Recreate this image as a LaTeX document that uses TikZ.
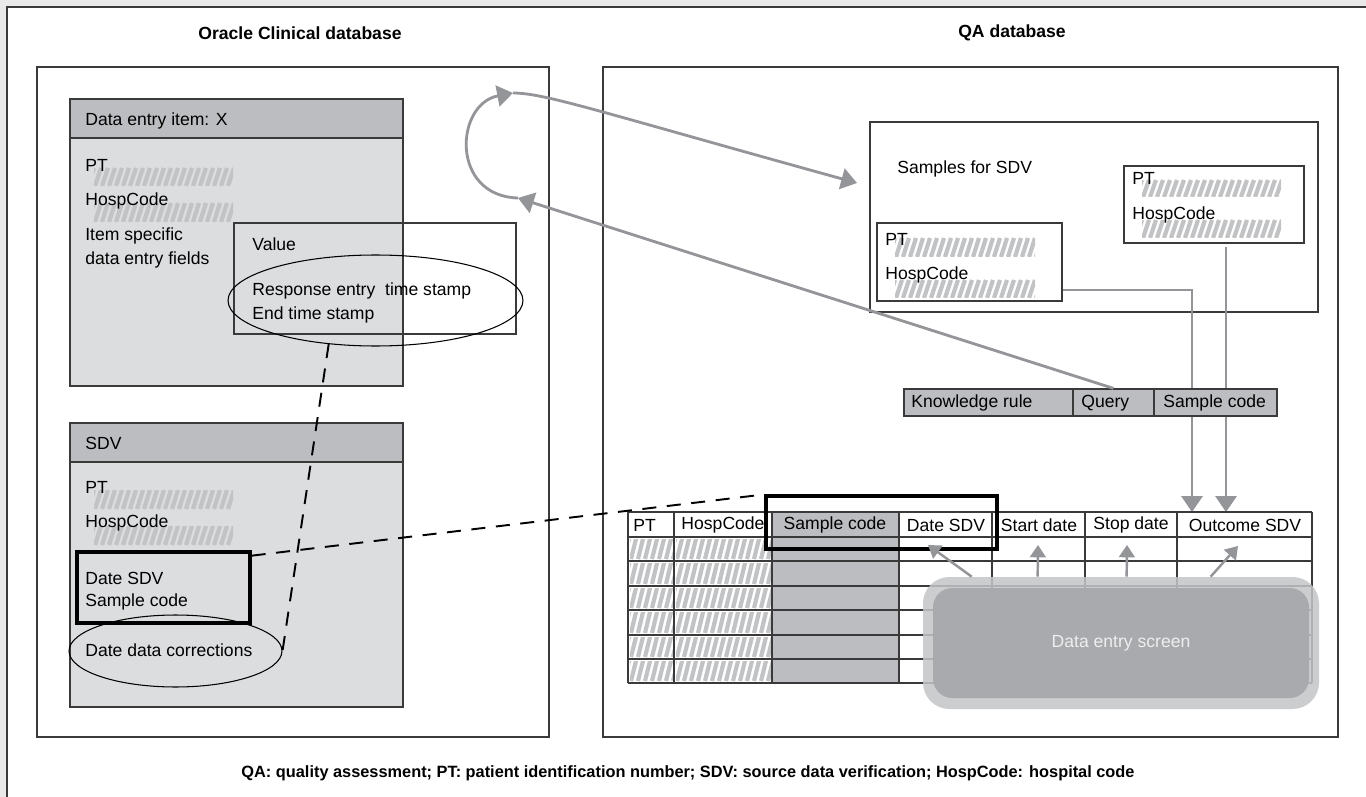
\documentclass[tikz,border=0pt]{standalone}
\usepackage{fontspec}
\setmainfont{Liberation Sans}
\usetikzlibrary{arrows.meta,positioning,calc,fit,shapes.geometric}

\definecolor{bggray}{HTML}{E9E9E9}
\definecolor{panelfill}{HTML}{DCDDDF}
\definecolor{headfill}{HTML}{BCBDC0}
\definecolor{hatchgray}{HTML}{C2C3C5}
\definecolor{arrowgray}{HTML}{939598}
\definecolor{screenrim}{HTML}{C4C5C7}
\definecolor{screenface}{HTML}{A9AAAD}
\definecolor{screentext}{HTML}{EEEEEE}
\definecolor{linedark}{HTML}{3A3A3A}

% striped field placeholder: x1,y1 (top left) x2,y2 (bottom right)
\newcommand{\hatchbar}[4]{%
  \begin{scope}
    \clip (#1,#2) rectangle (#3,#4);
    \foreach \k in {0,...,22}
      \draw[hatchline] ({#1+7*\k-6},#4) -- ++(6,{#2-#4});
  \end{scope}}

\begin{document}
\begin{tikzpicture}[x=0.02cm,y=-0.02cm,
  font=\fontsize{10}{12}\selectfont,
  frame/.style={draw=linedark,line width=0.7pt,inner sep=0pt},
  thickbox/.style={draw=black,line width=1.8pt,inner sep=0pt},
  lbl/.style={anchor=west,inner sep=0pt},
  ttl/.style={font=\bfseries\fontsize{10}{12}\selectfont,inner sep=0pt},
  ring/.style={draw=black,line width=0.6pt,ellipse,inner sep=0pt},
  hatchline/.style={draw=hatchgray,line width=2.4pt},
  link/.style={draw=black,line width=1.1pt,dash pattern=on 8pt off 6pt},
  garrow/.style={draw=arrowgray,line width=1.6pt,
                 -{Triangle[length=9pt,width=12pt]}},
  gline/.style={draw=arrowgray,line width=1.3pt},
  sarrow/.style={draw=arrowgray,line width=1.4pt,
                 -{Triangle[length=7pt,width=9pt]}}]
\useasboundingbox (0,0) rectangle (1366,797);
\fill[bggray] (0,0) rectangle (1366,797);
\fill[white] (7,7) rectangle (1366,797);
\draw[linedark,line width=1.3pt] (7,797) -- (7,7) -- (1366,7);

% titles
\node[ttl] (ocdb) at (300,33) {Oracle Clinical database};
\node[ttl] (qadb) at (1012,33) {QA database};
\node[ttl,font=\bfseries\fontsize{9.3}{11}\selectfont] (notes) at (688,773) {QA: quality assessment; PT: patient identification number; SDV: source data verification; HospCode: hospital code};

% panels
\node[frame,fit={(37,67) (549,737)}] (ocpanel) {};
\node[frame,fit={(603,67) (1338,737)}] (qapanel) {};

% data entry item
\node[frame,fill=panelfill,fit={(70,99) (403,386)}] (dei) {};
\node[frame,fill=headfill,fit={(70,99) (403,138)}] (deihead) {};
\node[lbl] (deit) at (85,121) {Data entry item: X};
\hatchbar{94}{168}{233}{186}
\hatchbar{94}{203}{233}{222}
\node[lbl] (deipt) at (85,165) {PT};
\node[lbl] (deihc) at (85,201) {HospCode};
\node[lbl] (deiis) at (85,236) {Item specific};
\node[lbl] (deide) at (85,260) {data entry fields};
\node[frame,fit={(234,223) (516,334)}] (value) {};
\node[lbl] (valt) at (252,244) {Value};
\node[lbl] (resp) at (252,291) {Response entry~ time stamp};
\node[lbl] (endt) at (252,315) {End time stamp};
\node[ring,minimum width=5.9cm,minimum height=1.82cm] (stamps) at (375.5,300.5) {};

% SDV
\node[frame,fill=panelfill,fit={(70,423) (403,707)}] (sdv) {};
\node[frame,fill=headfill,fit={(70,423) (403,462)}] (sdvhead) {};
\node[lbl] (sdvt) at (85,443) {SDV};
\hatchbar{94}{490}{233}{509}
\hatchbar{94}{526}{233}{545}
\node[lbl] (sdvpt) at (85,487) {PT};
\node[lbl] (sdvhc) at (85,523) {HospCode};
\node[thickbox,fit={(77,552) (250,623)}] (sdvkey) {};
\node[lbl] (sdvds) at (85,578) {Date SDV};
\node[lbl] (sdvsc) at (85,602) {Sample code};
\node[ring,minimum width=4.26cm,minimum height=1.44cm] (corr) at (175.5,651) {};
\node[lbl] (corrt) at (85,650) {Date data corrections};

% samples for SDV
\node[frame,fit={(870,122) (1318,312)}] (samples) {};
\node[lbl] (sampt) at (897,169) {Samples for SDV};
\node[frame,fit={(877,223) (1062,301)}] (sampa) {};
\hatchbar{895}{238}{1035}{257}
\hatchbar{895}{280}{1035}{298}
\node[lbl] (sapt) at (885,239) {PT};
\node[lbl] (sahc) at (885,275) {HospCode};
\node[frame,fit={(1124,166) (1304,243)}] (sampb) {};
\hatchbar{1142}{180}{1281}{197}
\hatchbar{1142}{220}{1281}{238}
\node[lbl] (sbpt) at (1132,178) {PT};
\node[lbl] (sbhc) at (1132,215) {HospCode};

% sample links down to the table
\coordinate (inA) at (1192,512);
\coordinate (inB) at (1226,512);
\draw[gline] (sampa.east |- 0,290) -| (1192,400);
\draw[garrow,line width=1.3pt] (1192,400) -- (inA);
\draw[garrow,line width=1.3pt] ([yshift=-2pt]sampb.south -| inB) -- (inB);

% knowledge rule bar
\node[frame,fill=headfill,fit={(904,389) (1073,416)}] (krule) {};
\node[frame,fill=headfill,fit={(1073,389) (1154,416)}] (qry) {};
\node[frame,fill=headfill,fit={(1154,389) (1277,416)}] (scode) {};
\node[lbl] at (911,403) {Knowledge rule};
\node[lbl] at (1081,403) {Query};
\node[lbl] at (1163,403) {Sample code};

% query loop
\coordinate (loopin) at (518,198);
\coordinate (loopout) at (513,93);
\coordinate (sampin) at (857,183);
\draw[garrow] (qry.north) -- (loopin);
\draw[garrow] (loopin) .. controls (450,196) and (455,104) .. (loopout);
\draw[garrow] (loopout) .. controls (545,93) and (600,112) .. (sampin);

% table
\fill[headfill] (772,512) rectangle (899,683);
\foreach \ya/\yb in {537/561,561/586,586/610,610/635,635/659,659/683}{
  \hatchbar{630}{\ya+2}{673}{\yb-2}
  \hatchbar{676}{\ya+2}{771}{\yb-2}
}
\node[fit={(628,512) (1312,683)},inner sep=0pt] (tab) {};
\foreach \yy in {512,537,561,586,610,635,659,683}
  \draw[linedark,line width=0.7pt] (628,\yy) -- (1312,\yy);
\foreach \xx in {628,674,772,899,992,1085,1177,1312}
  \draw[linedark,line width=0.7pt] (\xx,512) -- (\xx,683);
\node[lbl] (hpt) at (633,525) {PT};
\node (hhc) at (723,525) {HospCode};
\node (hsc) at (835,525) {Sample code};
\node (hds) at (946,525) {Date SDV};
\node (hst) at (1039,525) {Start date};
\node (hsp) at (1131,525) {Stop date};
\node (hout) at (1245,525) {Outcome SDV};
\node[thickbox,fit={(766,496) (997,549)}] (tabkey) {};

% data entry screen
\node[fit={(923,577) (1319,709)},inner sep=0pt,rounded corners=15pt,
      fill=screenrim,fill opacity=0.85] (scr) {};
\node[fit={(933,588) (1309,698)},inner sep=0pt,rounded corners=11pt,
      fill=screenface] (scrin) {};
\node[text=screentext] (scrt) at (scrin.center) {Data entry screen};
\coordinate (tds) at (928,545);
\coordinate (tst) at (1038,545);
\coordinate (tsp) at (1127,545);
\coordinate (tout) at (1238,546);
\draw[sarrow] ($(scr.north west)+(49,0)$) -- (tds);
\draw[sarrow] ($(scr.north west)+(115,0)$) -- (tst);
\draw[sarrow] ($(scr.north west)+(204,0)$) -- (tsp);
\draw[sarrow] ($(scr.north west)+(288,0)$) -- (tout);

% dashed correspondences
\draw[link] (stamps.-137) -- (corr.east);
\draw[link] ([yshift=-3pt]sdvkey.north east) -- (tabkey.north west);
\end{tikzpicture}
\end{document}
